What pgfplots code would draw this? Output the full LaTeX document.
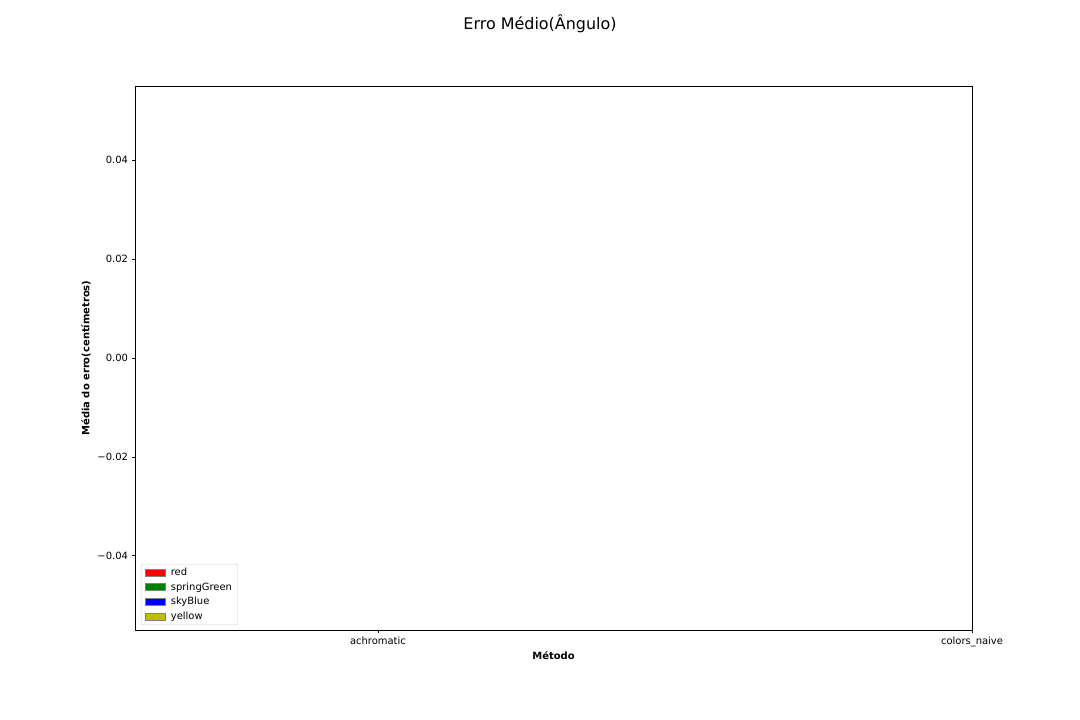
\documentclass[border=0pt]{standalone}
\usepackage{fontspec}
\setmainfont{DejaVu Sans}
\usepackage{pgfplots}
\pgfplotsset{compat=1.18}
\definecolor{mplyellow}{RGB}{191,191,0}
\definecolor{mplgreen}{RGB}{0,128,0}
\begin{document}
\begin{tikzpicture}[x=1bp,y=1bp]
\path[use as bounding box] (0,0) rectangle (1080,720);
\node[font=\fontsize{16}{19}\selectfont] at (540,696) {Erro Médio(Ângulo)};
\begin{axis}[at={(135bp,90bp)}, anchor=south west, scale only axis,
  width=837bp, height=544bp,
  xmin=-0.409, xmax=1, ymin=-0.055, ymax=0.055,
  scaled y ticks=false,
  xtick={0,1}, xticklabels={achromatic, colors\_naive},
  ytick={-0.04,-0.02,0,0.02,0.04},
  yticklabels={−0.04,−0.02,0.00,0.02,0.04},
  tick align=outside, xtick pos=bottom, ytick pos=left,
  major tick length=3.5bp,
  tick style={black, line width=0.8bp},
  axis line style={line width=0.8bp},
  tick label style={font=\fontsize{10}{12}\selectfont},
  label style={font=\fontsize{10}{12}\selectfont},
  xlabel={\textbf{Método}}, ylabel={\textbf{Média do erro(centímetros)}},
  xlabel style={yshift=2bp},
  legend style={at={(0.007,0.009)}, anchor=south west,
    font=\fontsize{10}{12}\selectfont, draw=black!20, rounded corners=2pt,
    row sep=1.5bp, inner xsep=3.5bp, inner ysep=2bp},
  legend cell align=left,
  legend image code/.code={\draw[#1, sharp corners, line width=0.6bp] (0bp,-3.5bp) rectangle (20bp,3.5bp);
    \path[draw=none, fill=none] (0bp,0bp) -- (24bp,0bp);},
]
\addplot[ybar, bar width=20bp, fill=red, fill opacity=0, draw=none, forget plot] coordinates {(0,0) (1,0)};
\addplot[ybar, bar width=20bp, fill=mplgreen, fill opacity=0, draw=none, forget plot] coordinates {(0,0) (1,0)};
\addplot[ybar, bar width=20bp, fill=blue, fill opacity=0, draw=none, forget plot] coordinates {(0,0) (1,0)};
\addplot[ybar, bar width=20bp, fill=mplyellow, fill opacity=0, draw=none, forget plot] coordinates {(0,0) (1,0)};
\addlegendimage{fill=red, draw=gray}
\addlegendentry{red}
\addlegendimage{fill=mplgreen, draw=gray}
\addlegendentry{springGreen}
\addlegendimage{fill=blue, draw=gray}
\addlegendentry{skyBlue}
\addlegendimage{fill=mplyellow, draw=gray}
\addlegendentry{yellow}
\end{axis}
\end{tikzpicture}
\end{document}
